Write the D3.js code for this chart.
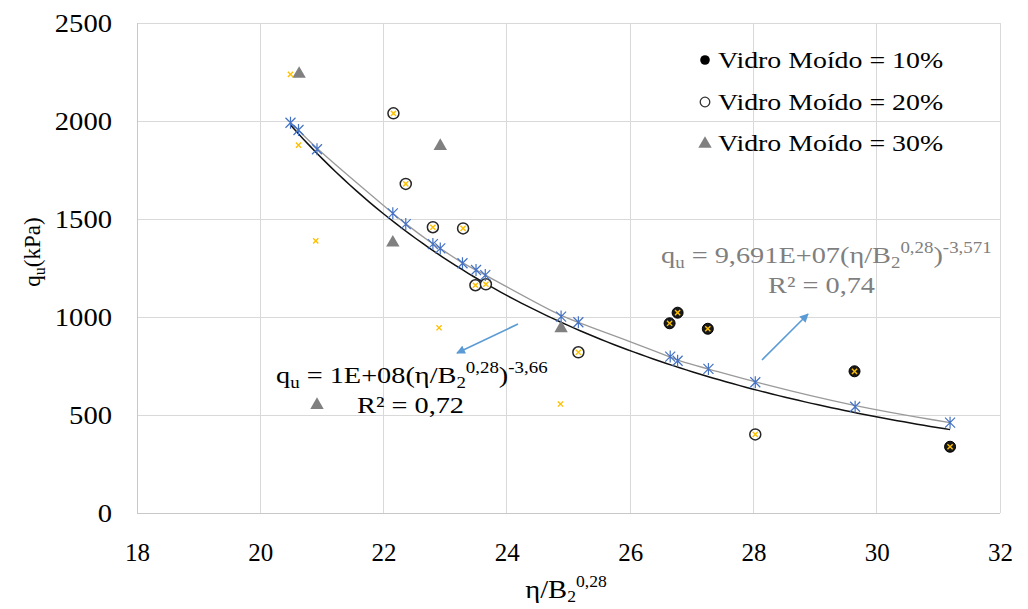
<!DOCTYPE html>
<html><head><meta charset="utf-8">
<script src="https://cdn.jsdelivr.net/npm/d3@7"></script>
<style>
html,body{margin:0;padding:0;background:#fff;}
svg{display:block;font-family:"Liberation Serif","Times New Roman",serif;}
</style></head>
<body>
<svg id="c" width="1028" height="609"></svg>
<script>
// ---- data ----
const xTicks = [18, 20, 22, 24, 26, 28, 30, 32];
const yTicks = [0, 500, 1000, 1500, 2000, 2500];

const vm10X = [26.64, 26.77, 27.26, 29.64, 31.19];
const vm10Y = [968, 1022, 940, 723, 338];

const vm20X = [22.16, 22.36, 22.80, 23.29, 23.49, 23.66, 25.16, 28.03];
const vm20Y = [2039, 1679, 1458, 1452, 1162, 1167, 820, 401];

const vm30X = [20.63, 22.92, 22.15, 24.88, 20.92];
const vm30Y = [2240, 1872, 1379, 942, 551];

const yellowX = [26.64, 26.77, 27.26, 29.64, 31.19, 22.16, 22.36, 22.80, 23.29, 23.49, 23.66, 25.16, 28.03, 20.49, 20.62, 20.90, 22.90, 24.87];
const yellowY = [968, 1022, 940, 723, 338, 2039, 1679, 1458, 1452, 1162, 1167, 820, 401, 2238, 1877, 1388, 945, 556];

const fitX = [20.49, 20.62, 20.92, 22.15, 22.36, 22.80, 22.92, 23.28, 23.50, 23.65, 24.88, 25.16, 26.65, 26.77, 27.27, 28.03, 29.65, 31.19];
const fitY = [1991, 1954, 1856, 1529, 1474, 1372, 1350, 1274, 1240, 1214, 1002, 973, 798, 777, 735, 667, 542, 461];

// black trendline (power law shown on chart, coefficient as drawn)
const trendBlackA = 1.25e8, trendBlackB = -3.66;
const trendRange = [20.49, 31.19];

const legendLabels = ["Vidro Moído = 10%", "Vidro Moído = 20%", "Vidro Moído = 30%"];

// ---- drawing ----
const svg = d3.select("#c");
const x = d3.scaleLinear().domain([18, 32]).range([137, 1000]);
const y = d3.scaleLinear().domain([0, 2500]).range([513, 23]);

const font = "Liberation Serif";

function stext(parent, xp, yp, sx, size, color, anchor) {
  const g = parent.append("g").attr("transform", `translate(${xp},${yp}) scale(${sx},1)`);
  return g.append("text").attr("x", 0).attr("y", 0).attr("font-family", font)
    .attr("font-size", size).attr("fill", color).attr("text-anchor", anchor || "start");
}

// gridlines
svg.append("g").selectAll("line").data(yTicks).join("line")
  .attr("x1", x(18)).attr("x2", x(32))
  .attr("y1", d => y(d)).attr("y2", d => y(d))
  .attr("stroke", d => d === 0 ? "#c8c8c8" : "#d9d9d9").attr("stroke-width", 1)
  .attr("shape-rendering", "crispEdges");
svg.append("g").selectAll("line").data(xTicks).join("line")
  .attr("x1", d => x(d)).attr("x2", d => x(d))
  .attr("y1", y(0)).attr("y2", y(2500))
  .attr("stroke", d => d === 18 ? "#c8c8c8" : "#d9d9d9").attr("stroke-width", 1)
  .attr("shape-rendering", "crispEdges");

// axes (labels)
const xAxis = svg.append("g").attr("transform", `translate(0,${y(0)})`)
  .call(d3.axisBottom(x).tickValues(xTicks).tickSize(0).tickPadding(30).tickFormat(d3.format("d")));
xAxis.select(".domain").remove();
xAxis.selectAll("text").attr("font-family", font).attr("font-size", 25).attr("fill", "#000");

const ySx = 1.1;
const yAxis = svg.append("g").attr("transform", `translate(${x(18)},0)`)
  .call(d3.axisLeft(y).tickValues(yTicks).tickSize(0).tickPadding(25).tickFormat(d3.format("d")));
yAxis.select(".domain").remove();
yAxis.selectAll("text").attr("font-family", font).attr("font-size", 26).attr("fill", "#000")
  .attr("x", -25 / ySx).attr("transform", `scale(${ySx},1)`);

// axis titles
const xt = stext(svg, 566, 598, 1.1, 26, "#000", "middle");
xt.append("tspan").text("η/B");
xt.append("tspan").attr("font-size", 16).attr("dy", 4).text("2");
xt.append("tspan").attr("font-size", 16).attr("dy", -15).text("0,28");

const yt = svg.append("text").attr("transform", `translate(40,252) rotate(-90)`)
  .attr("text-anchor", "middle").attr("font-family", font).attr("font-size", 23).attr("fill", "#000");
yt.append("tspan").text("q");
yt.append("tspan").attr("font-size", 16).attr("dy", 5).text("u");
yt.append("tspan").attr("dy", -5).text("(kPa)");

// trendlines
const grayPts = fitX.map((v, i) => [v, fitY[i]]);
svg.append("path").datum(grayPts)
  .attr("d", d3.line().x(d => x(d[0])).y(d => y(d[1])).curve(d3.curveBasis))
  .attr("fill", "none").attr("stroke", "#9a9a9a").attr("stroke-width", 1.3);

const blackPts = d3.range(0, 101).map(i => {
  const xv = trendRange[0] + (trendRange[1] - trendRange[0]) * i / 100;
  return [xv, trendBlackA * Math.pow(xv, trendBlackB)];
});
svg.append("path").datum(blackPts)
  .attr("d", d3.line().x(d => x(d[0])).y(d => y(d[1])))
  .attr("fill", "none").attr("stroke", "#111").attr("stroke-width", 1.5);

// markers
const triPath = d3.symbol().type(d3.symbolTriangle).size(78);
function tri(g, cx, cy) {
  g.append("path").attr("d", triPath()).attr("transform", `translate(${cx},${cy})`).attr("fill", "#808080");
}

const gT = svg.append("g");
vm30X.forEach((v, i) => tri(gT, x(v), y(vm30Y[i])));

svg.append("g").selectAll("circle").data(vm20X).join("circle")
  .attr("cx", d => x(d)).attr("cy", (d, i) => y(vm20Y[i])).attr("r", 5.5)
  .attr("fill", "#fff").attr("stroke", "#262626").attr("stroke-width", 1.5);

svg.append("g").selectAll("circle").data(vm10X).join("circle")
  .attr("cx", d => x(d)).attr("cy", (d, i) => y(vm10Y[i])).attr("r", 5.5)
  .attr("fill", "#1a1a1a").attr("stroke", "#000").attr("stroke-width", 1);

const gY = svg.append("g").attr("stroke", "#FFC000").attr("stroke-width", 1.4);
yellowX.forEach((v, i) => {
  const cx = x(v), cy = y(yellowY[i]), s = 2.6;
  gY.append("path").attr("d", `M${cx-s},${cy-s}L${cx+s},${cy+s}M${cx-s},${cy+s}L${cx+s},${cy-s}`);
});

const gA = svg.append("g").attr("stroke", "#4472C4").attr("stroke-width", 1.2).attr("fill", "none");
fitX.forEach((v, i) => {
  const cx = x(v), cy = y(fitY[i]), s = 5;
  gA.append("path").attr("d",
    `M${cx-s},${cy-s}L${cx+s},${cy+s}M${cx-s},${cy+s}L${cx+s},${cy-s}M${cx},${cy-6}L${cx},${cy+6}`);
});

// arrows
const defs = svg.append("defs");
defs.append("marker").attr("id", "ah").attr("viewBox", "0 0 10 10").attr("refX", 9).attr("refY", 5)
  .attr("markerWidth", 5.5).attr("markerHeight", 5.5).attr("orient", "auto").attr("markerUnits", "strokeWidth")
  .append("path").attr("d", "M0,0L10,5L0,10z").attr("fill", "#5B9BD5");
svg.append("line").attr("x1", 518).attr("y1", 324).attr("x2", 457).attr("y2", 353)
  .attr("stroke", "#5B9BD5").attr("stroke-width", 1.6).attr("marker-end", "url(#ah)");
svg.append("line").attr("x1", 762).attr("y1", 360).attr("x2", 808).attr("y2", 314)
  .attr("stroke", "#5B9BD5").attr("stroke-width", 1.6).attr("marker-end", "url(#ah)");

// equations
const eqSx = 1.18;
function eq(xp, yp, coef, expo, color) {
  const t = stext(svg, xp, yp, eqSx, 24, color, "start");
  t.append("tspan").text("q");
  t.append("tspan").attr("font-size", 16).attr("dy", 5).text("u");
  t.append("tspan").attr("dy", -5).text(" = " + coef + "(η/B");
  t.append("tspan").attr("font-size", 16).attr("dy", 5).text("2");
  t.append("tspan").attr("font-size", 16).attr("dy", -15).text("0,28");
  t.append("tspan").attr("dy", 10).text(")");
  t.append("tspan").attr("font-size", 16).attr("dy", -10).text(expo);
  return t;
}
eq(661, 263, "9,691E+07", "-3,571", "#7f7f7f");
stext(svg, 768, 293, eqSx, 24, "#7f7f7f").text("R² = 0,74");
eq(276, 383, "1E+08", "-3,66", "#000");
stext(svg, 357, 413, eqSx, 24, "#000").text("R² = 0,72");

// legend
const lg = svg.append("g");
const rows = [60, 102, 143];
lg.append("circle").attr("cx", 705).attr("cy", rows[0]).attr("r", 4.8).attr("fill", "#000");
lg.append("circle").attr("cx", 705).attr("cy", rows[1]).attr("r", 4.8).attr("fill", "#fff").attr("stroke", "#333").attr("stroke-width", 1.3);
tri(lg, 705, rows[2] + 1);
legendLabels.forEach((t, i) => {
  stext(lg, 718, rows[i] + 8, 1.16, 24, "#000").text(t);
});
</script>
</body></html>
